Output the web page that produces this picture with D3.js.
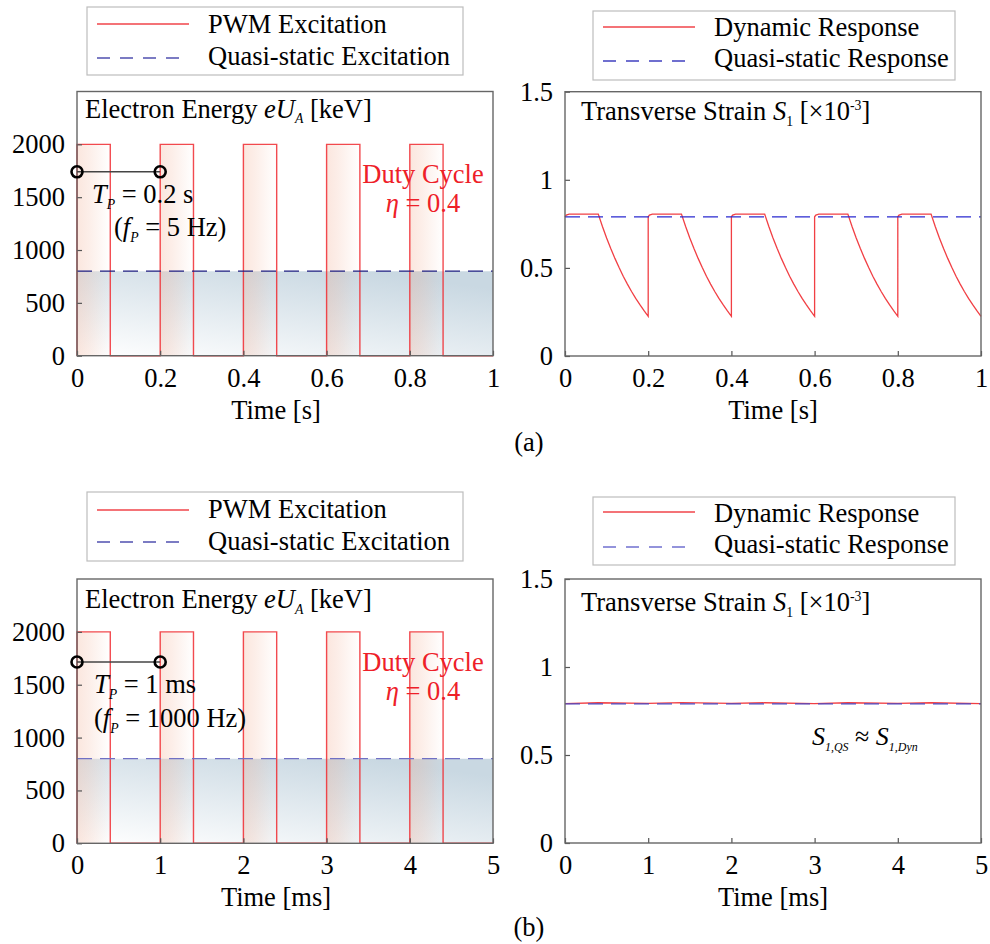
<!DOCTYPE html>
<html>
<head>
<meta charset="utf-8">
<script src="https://cdn.jsdelivr.net/npm/d3@7"></script>
<style>
body{margin:0;background:#fff;}
svg{display:block;}
text{font-family:"Liberation Serif","Times New Roman",serif;white-space:pre;}
</style>
</head>
<body>
<svg id="fig" width="990" height="944"></svg>
<script>
// values
var timeTicksA=[0,0.2,0.4,0.6,0.8,1];
var timeTicksB=[0,1,2,3,4,5];
var energyTicks=[0,500,1000,1500,2000];
var strainTicks=[0,0.5,1,1.5];

var pulseStartsA=[0,0.2,0.4,0.6,0.8];
var pulseEndsA=[0.08,0.28,0.48,0.68,0.88];
var pulseStartsB=[0,1,2,3,4];
var pulseEndsB=[0.4,1.4,2.4,3.4,4.4];
var pulseEnergy=2000;
var quasiStaticEnergy=800;
var quasiStaticStrain=0.79;

// one period of the 5 Hz dynamic strain, time relative to the period start
var cycleTimeA=[0,0.003,0.01,0.08,0.09,0.10,0.11,0.12,0.13,0.14,0.15,0.16,0.17,0.18,0.19,0.2];
var cycleStrainA=[0.79,0.80,0.805,0.805,0.735,0.670,0.610,0.554,0.502,0.453,0.408,0.366,0.327,0.291,0.257,0.225];
// 1000 Hz dynamic strain
var dynTimeB=[0,0.4,1,1.4,2,2.4,3,3.4,4,4.4,5];
var dynStrainB=[0.792,0.797,0.793,0.798,0.793,0.797,0.792,0.797,0.793,0.797,0.792];

var periodMarkA=[0,0.2], periodMarkB=[0,1];
var markEnergyA=1740, markEnergyB=1715;

var FS=26.5;
var svg=d3.select("#fig");
var defs=svg.append("defs");

var qs=defs.append("linearGradient").attr("id","qsFill")
    .attr("x1",0).attr("y1",1).attr("x2",0.7).attr("y2",0);
qs.append("stop").attr("offset",0).attr("stop-color","#ffffff");
qs.append("stop").attr("offset",1).attr("stop-color","#c9d8e2");

var pf=defs.append("linearGradient").attr("id","pulseFill")
    .attr("x1",0).attr("y1",0).attr("x2",1).attr("y2",0);
pf.append("stop").attr("offset",0).attr("stop-color","#f0a080").attr("stop-opacity",0.26);
pf.append("stop").attr("offset",0.35).attr("stop-color","#f0a080").attr("stop-opacity",0.18);
pf.append("stop").attr("offset",1).attr("stop-color","#f0a080").attr("stop-opacity",0);

// rich text with italic parts, sub and superscripts
function rich(g,x,y,parts,size,fill,anchor,subScale){
    var t=g.append("text").attr("x",x).attr("y",y)
        .attr("font-size",size).attr("fill",fill||"#000")
        .attr("text-anchor",anchor||"start");
    var shift=0;
    parts.forEach(function(p){
        var target=p.sub?size*0.22:(p.sup?-size*0.38:0);
        var ts=t.append("tspan").text(p.t).attr("dy",target-shift);
        shift=target;
        if(p.sub||p.sup) ts.attr("font-size",size*(subScale||0.52));
        if(p.i) ts.attr("font-style","italic");
    });
    return t;
}

function frame(x,y,xt,yt){
    var g=svg.append("g");
    var x0=x.range()[0],x1=x.range()[1],y0=y.range()[1],y1=y.range()[0];
    var ax=g.append("g").attr("transform","translate(0,"+y1+")")
        .call(d3.axisBottom(x).tickValues(xt).tickSizeInner(-5).tickSizeOuter(0)
        .tickPadding(12).tickFormat(function(d){return String(d);}));
    var ay=g.append("g").attr("transform","translate("+x0+",0)")
        .call(d3.axisLeft(y).tickValues(yt).tickSizeInner(-5).tickSizeOuter(0)
        .tickPadding(12).tickFormat(function(d){return String(d);}));
    [ax,ay].forEach(function(a){
        a.select(".domain").remove();
        a.selectAll(".tick line").attr("stroke","#555").attr("stroke-width",1.2);
        a.selectAll(".tick text").attr("font-size",FS).attr("fill","#000");
    });
    g.append("rect").attr("x",x0).attr("y",y0).attr("width",x1-x0).attr("height",y1-y0)
        .attr("fill","none").attr("stroke","#666").attr("stroke-width",1.4);
}

function legend(bx,entries){
    var g=svg.append("g");
    g.append("rect").attr("x",bx.x).attr("y",bx.y).attr("width",bx.w).attr("height",bx.h)
        .attr("fill","#fff").attr("stroke","#bdbdbd").attr("stroke-width",1.2);
    entries.forEach(function(e,i){
        g.append("line").attr("x1",bx.x+10).attr("x2",bx.x+102)
            .attr("y1",bx.lineY[i]).attr("y2",bx.lineY[i])
            .attr("stroke",e.color).attr("stroke-width",1.3)
            .attr("stroke-dasharray",e.dash||null);
        g.append("text").attr("x",bx.x+121).attr("y",bx.textY[i])
            .attr("font-size",FS).text(e.label);
    });
}

function energyPanel(p){
    var x=d3.scaleLinear().domain(p.xDomain).range([77,493]);
    var y=d3.scaleLinear().domain([0,2500]).range([p.bottom,p.top]);
    var g=svg.append("g");
    // quasi-static area
    g.append("path")
        .datum([[p.xDomain[0],quasiStaticEnergy],[p.xDomain[1],quasiStaticEnergy]])
        .attr("fill","url(#qsFill)")
        .attr("d",d3.area().x(function(d){return x(d[0]);}).y0(y(0)).y1(function(d){return y(d[1]);}));
    // pulse shading
    g.selectAll("rect.pulse").data(p.starts).enter().append("rect")
        .attr("x",function(d){return x(d);})
        .attr("y",y(pulseEnergy))
        .attr("width",function(d,i){return x(p.ends[i])-x(d);})
        .attr("height",y(0)-y(pulseEnergy))
        .attr("fill","url(#pulseFill)");
    // PWM waveform
    var pts=[];
    p.starts.forEach(function(s,i){
        pts.push([s,0],[s,pulseEnergy],[p.ends[i],pulseEnergy],[p.ends[i],0]);
    });
    pts.push([p.xDomain[1],0]);
    g.append("path").datum(pts).attr("fill","none")
        .attr("stroke","#f02a30").attr("stroke-opacity",0.85).attr("stroke-width",1.4)
        .attr("d",d3.line().x(function(d){return x(d[0]);}).y(function(d){return y(d[1]);}));
    g.append("line").attr("x1",x(p.xDomain[0])).attr("x2",x(p.xDomain[1]))
        .attr("y1",y(quasiStaticEnergy)).attr("y2",y(quasiStaticEnergy))
        .attr("stroke",p.qsColor).attr("stroke-width",1.3).attr("stroke-dasharray","15,8");
    frame(x,y,p.xTicks,energyTicks);
    // period marker
    g=svg.append("g");
    g.append("line").attr("x1",x(p.mark[0])).attr("x2",x(p.mark[1]))
        .attr("y1",y(p.markE)).attr("y2",y(p.markE))
        .attr("stroke","#444").attr("stroke-width",1.5);
    g.selectAll("circle").data(p.mark).enter().append("circle")
        .attr("cx",function(d){return x(d);}).attr("cy",y(p.markE)).attr("r",5.5)
        .attr("fill","none").attr("stroke","#000").attr("stroke-width",2.6);
    rich(g,85,p.top+p.titleDy,[{t:"Electron Energy "},{t:"eU",i:true},{t:"A",i:true,sub:true},{t:" [keV]"}],FS);
    rich(g,p.tpX,p.tpY,[{t:"T",i:true},{t:"P",i:true,sub:true},{t:" = "+p.tpText}],FS);
    rich(g,p.fpX,p.fpY,[{t:"("},{t:"f",i:true},{t:"P",i:true,sub:true},{t:" = "+p.fpText+")"}],FS);
    g.append("text").attr("x",423).attr("y",p.dutyY).attr("text-anchor","middle")
        .attr("font-size",FS).attr("fill","#ee2028").text("Duty Cycle");
    rich(g,423,p.dutyY+29,[{t:"η",i:true},{t:" = 0.4"}],FS,"#ee2028","middle");
    svg.append("text").attr("x",276).attr("y",p.bottom+63).attr("text-anchor","middle")
        .attr("font-size",FS).text(p.xLabel);
}

function strainPanel(p){
    var x=d3.scaleLinear().domain(p.xDomain).range([565,981]);
    var y=d3.scaleLinear().domain([0,1.5]).range([p.bottom,p.top]);
    var g=svg.append("g");
    var line=d3.line().x(function(d){return x(d[0]);}).y(function(d){return y(d[1]);});
    g.append("path").datum(p.dyn).attr("fill","none")
        .attr("stroke","#f02a30").attr("stroke-opacity",0.9).attr("stroke-width",1.3).attr("d",line);
    g.append("line").attr("x1",x(p.xDomain[0])).attr("x2",x(p.xDomain[1]))
        .attr("y1",y(quasiStaticStrain)).attr("y2",y(quasiStaticStrain))
        .attr("stroke",p.qsColor).attr("stroke-width",1.3).attr("stroke-dasharray","15,8");
    frame(x,y,p.xTicks,strainTicks);
    rich(svg,581,p.top+p.titleDy,[{t:"Transverse Strain "},{t:"S",i:true},{t:"1",sub:true},{t:" [×10"},{t:"-3",sup:true},{t:"]"}],FS);
    svg.append("text").attr("x",773).attr("y",p.bottom+63).attr("text-anchor","middle")
        .attr("font-size",FS).text(p.xLabel);
}

// dynamic strain at 5 Hz: the read period placed at each pulse start
var dynA=[];
pulseStartsA.forEach(function(s){
    cycleTimeA.forEach(function(t,i){dynA.push([s+t,cycleStrainA[i]]);});
});
var dynB=dynTimeB.map(function(t,i){return [t,dynStrainB[i]];});

energyPanel({xDomain:[0,1],xTicks:timeTicksA,top:91.5,bottom:355.7,starts:pulseStartsA,ends:pulseEndsA,
    qsColor:"#1c1c80",mark:periodMarkA,markE:markEnergyA,titleDy:26,
    tpX:92,tpY:203,tpText:"0.2 s",fpX:114,fpY:236,fpText:"5 Hz",dutyY:183,xLabel:"Time [s]"});
energyPanel({xDomain:[0,5],xTicks:timeTicksB,top:579,bottom:843.3,starts:pulseStartsB,ends:pulseEndsB,
    qsColor:"#7070c4",mark:periodMarkB,markE:markEnergyB,titleDy:29,
    tpX:94,tpY:693,tpText:"1 ms",fpX:94,fpY:727,fpText:"1000 Hz",dutyY:671,xLabel:"Time [ms]"});
strainPanel({xDomain:[0,1],xTicks:timeTicksA,top:91.7,bottom:356,dyn:dynA,qsColor:"#2a2ad0",titleDy:28,xLabel:"Time [s]"});
strainPanel({xDomain:[0,5],xTicks:timeTicksB,top:579,bottom:843,dyn:dynB,qsColor:"#4a4ac4",titleDy:32,xLabel:"Time [ms]"});

rich(svg,812,745,[{t:"S",i:true},{t:"1,QS",i:true,sub:true},{t:" ≈ "},{t:"S",i:true},{t:"1,Dyn",i:true,sub:true}],26,"#000","start",0.46);

legend({x:87,y:7,w:376,h:68,lineY:[24,58],textY:[33,65]},
    [{label:"PWM Excitation",color:"#f0444a"},{label:"Quasi-static Excitation",color:"#5050b0",dash:"13,10"}]);
legend({x:593,y:11,w:362,h:69,lineY:[27,61],textY:[36,67]},
    [{label:"Dynamic Response",color:"#f0444a"},{label:"Quasi-static Response",color:"#4040c0",dash:"13,10"}]);
legend({x:87,y:492,w:376,h:69,lineY:[510,542],textY:[518,550]},
    [{label:"PWM Excitation",color:"#f0444a"},{label:"Quasi-static Excitation",color:"#5050b0",dash:"13,10"}]);
legend({x:593,y:497,w:362,h:68,lineY:[512,547],textY:[522,553]},
    [{label:"Dynamic Response",color:"#f0444a"},{label:"Quasi-static Response",color:"#7070d0",dash:"13,10"}]);

svg.append("text").attr("x",529).attr("y",451).attr("text-anchor","middle").attr("font-size",FS).text("(a)");
svg.append("text").attr("x",529).attr("y",936).attr("text-anchor","middle").attr("font-size",FS).text("(b)");
</script>
</body>
</html>
